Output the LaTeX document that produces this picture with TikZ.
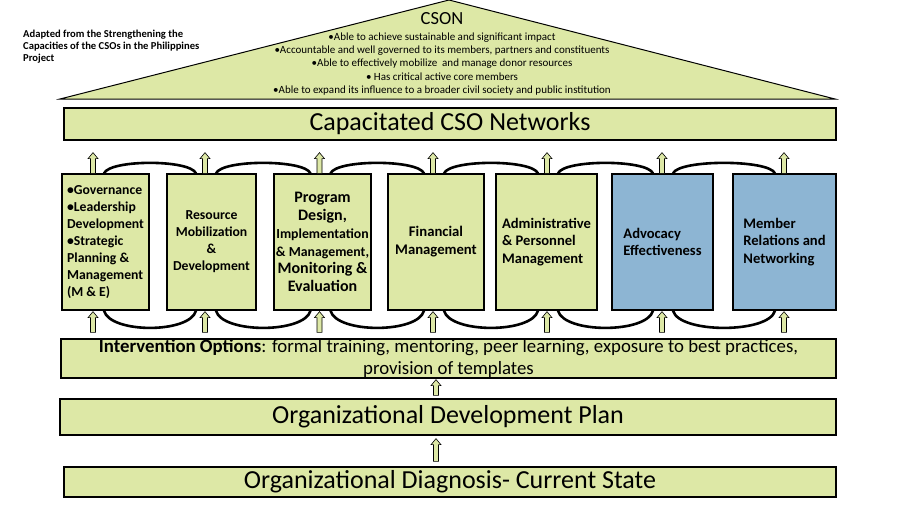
\documentclass[tikz,border=0pt]{standalone}
\usepackage{fontspec}
\setmainfont{Carlito}
\usepackage{tikz}
\usetikzlibrary{calc}
\definecolor{CsoGreen}{HTML}{DDE8A6}
\definecolor{CsoBlue}{HTML}{8DB5D3}
\newcommand{\fs}[2]{\fontsize{#1pt}{#2pt}\selectfont}

\tikzset{
  bar/.style={draw,line width=1.3pt,fill=CsoGreen,inner sep=0pt},
  pillar/.style={draw,line width=1.3pt,fill=CsoGreen,minimum height=136pt,inner sep=0pt},
  ringline/.style={line width=2.6pt},
  blockarr/.style={draw,fill=CsoGreen,line width=0.6pt,
    to path={let \p1=(\tikztostart),\p2=(\tikztotarget) in
      (\x1-2.5pt,\y1) -- (\x1-2.5pt,\y2-6pt) -- (\x1-5pt,\y2-6pt) -- (\x1,\y2)
      -- (\x1+5pt,\y2-6pt) -- (\x1+2.5pt,\y2-6pt) -- (\x1+2.5pt,\y1) -- cycle}},
}

\begin{document}
\begin{tikzpicture}[x=1pt,y=-1pt]
\useasboundingbox (0,0) rectangle (902,504);
% roof
\filldraw[fill=CsoGreen,line width=1pt] (60,99) -- (449,0) -- (835,99) -- cycle;
\node[font=\fs{18.5}{20}] (cson) at (442,19) {CSON};
\node[font=\fs{11}{13.3},align=center] (goals) at (442,64) {•Able to achieve sustainable and significant impact\\
  •Accountable and well governed to its members, partners and constituents\\
  •Able to effectively mobilize\ \ and manage donor resources\\
  • Has critical active core members\\
  •Able to expand its influence to a broader civil society and public institution};
\node[font=\bfseries\fs{10.6}{12.3},align=left,anchor=north west,inner sep=0pt] (src) at (23,29.5) {Adapted from the Strengthening the\\
  Capacities of the CSOs in the Philippines\\ Project};

% bars
\node[bar,minimum width=772pt,minimum height=32pt,font=\fs{26}{28}] (cap) at (450,124) {Capacitated CSO Networks};
\node[bar,minimum width=775pt,minimum height=39pt,font=\fs{18.8}{22},align=center] (iv) at (448.5,358.5)
  {\textbf{Intervention Options}: formal training, mentoring, peer learning, exposure to best practices,\\ provision of templates};
\node[bar,minimum width=776pt,minimum height=36pt,font=\fs{26}{28}] (odp) at (448,417) {Organizational Development Plan};
\node[bar,minimum width=772pt,minimum height=30pt,font=\fs{26}{28}] (diag) at (450,482) {Organizational Diagnosis- Current State};

% pillars
\node[pillar,minimum width=87pt,align=left,font=\bfseries\fs{13.7}{17.1}] (p1) at (105.5,242)
  {•Governance\\ •Leadership\\ Development\\ •Strategic\\ Planning \&\\ Management\\ (M \& E)};
\node[pillar,minimum width=89pt,align=center,font=\bfseries\fs{13.7}{17}] (p2) at (211.5,242)
  {Resource\\ Mobilization\\ \&\\ Development};
\node[pillar,minimum width=97pt,align=center,font=\bfseries\fs{16}{17.8}] (p3) at (322.5,242)
  {Program\\ Design,\\ {\fs{13.8}{17.8}Implementation}\\ {\fs{13.8}{17.8}\& Management,}\\ Monitoring \&\\ Evaluation};
\node[pillar,minimum width=96pt,align=center,font=\bfseries\fs{14.7}{18}] (p4) at (436,242)
  {Financial\\ Management};
\node[pillar,minimum width=101pt,align=left,font=\bfseries\fs{14.6}{17.5}] (p5) at (546.5,242)
  {Administrative\\ \& Personnel\\ Management};
\node[pillar,fill=CsoBlue,minimum width=101pt,align=left,font=\bfseries\fs{14.6}{17.5}] (p6) at (662.5,242)
  {Advocacy\\ Effectiveness};
\node[pillar,fill=CsoBlue,minimum width=103pt,align=left,font=\bfseries\fs{14.6}{17.5}] (p7) at (784.5,242)
  {Member\\ Relations and\\ Networking};

% arrows and rings
\foreach \i/\ax in {1/93,2/205,3/319.5,4/433,5/547,6/662,7/784}{\coordinate (a\i) at (\ax,0);}
\coordinate (am) at (436,0);
\foreach \i in {1,...,7}{
  \draw[blockarr] (p\i.north -| a\i) to ($(cap.south -| a\i)+(0,12)$);
  \draw[blockarr] ($(iv.north -| a\i)+(0,-6)$) to ($(p\i.south -| a\i)+(0,1)$);
}
\foreach \i/\j in {1/2,2/3,3/4,4/5,5/6,6/7}{
  \draw[ringline] ($(p\i.north -| a\i)+(11,0)$) .. controls +(6,-14) and +(-6,-14) .. ($(p\j.north -| a\j)+(-9,0)$);
  \draw[ringline] ($(p\i.south -| a\i)+(11,0)$) .. controls +(6,23) and +(-6,23) .. ($(p\j.south -| a\j)+(-9,0)$);
}
\draw[blockarr] ($(odp.north -| am)+(0,-3)$) to ($(iv.south -| am)+(0,1)$);
\draw[blockarr] ($(diag.north -| am)+(0,-5)$) to ($(odp.south -| am)+(0,3)$);
\end{tikzpicture}
\end{document}
